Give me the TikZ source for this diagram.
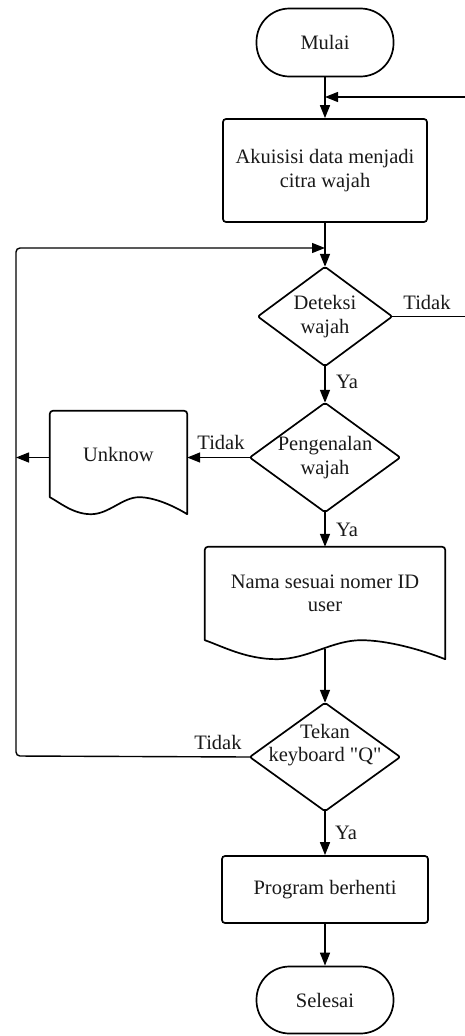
\documentclass[tikz,border=0pt]{standalone}
\usepackage{fontspec}
\setmainfont{Liberation Serif}
\usetikzlibrary{arrows.meta,calc}
\newcommand\docpath[2]{%
 \draw[shapeline] (#1.south west) [rounded corners=3pt]-- (#1.north west) -- (#1.north east) [sharp corners]-- ($(#1.south east)+(0,#2)$)
 .. controls ($(#1.south west)!0.9!(#1.south east)+(0,0.5*#2)$) and ($(#1.south west)!0.76!(#1.south east)$) .. ($(#1.south west)!0.65!(#1.south east)$)
 .. controls ($(#1.south west)!0.53!(#1.south east)$) and ($(#1.south west)!0.43!(#1.south east)+(0,#2)$) .. ($(#1.south west)!0.3!(#1.south east)+(0,#2)$)
 .. controls ($(#1.south west)!0.17!(#1.south east)+(0,#2)$) and ($(#1.south west)!0.07!(#1.south east)+(0,0.3*#2)$) .. cycle;}
\begin{document}
\begin{tikzpicture}[x=1pt,y=-1pt,
  every node/.style={font=\fontsize{20.5}{23.5}\selectfont, align=center, text=black!90},
  line/.style={line width=1.4pt},
  shapeline/.style={line width=1.7pt, line join=round},
  arr/.style={line width=1.4pt,-{Triangle[length=13pt,width=10pt]}},
  term/.style={draw,line width=1.7pt,rounded corners=33pt,minimum width=137pt,minimum height=68pt,inner sep=0pt},
  proc/.style={draw,line width=1.7pt,rounded corners=3pt,inner sep=0pt},
  shp/.style={inner sep=0pt},
  lbl/.style={inner sep=0pt}]
\useasboundingbox (0,0) rectangle (465,1036);
% nodes
\node[term] (mulai) at (325,42.5) {Mulai};
\node[proc, minimum width=204pt, minimum height=103pt] (akui) at (325,170.5) {Akuisisi data menjadi\\citra wajah};
\node[shp, minimum width=134pt, minimum height=99pt] (det) at (325,316.5) {Deteksi\\wajah};
\draw[shapeline, rounded corners=2pt] (det.north) -- (det.east) -- (det.south) -- (det.west) -- cycle;
\node[shp, minimum width=150pt, minimum height=109pt] (pen) at (325,457.5) {Pengenalan\\wajah};
\draw[shapeline, rounded corners=2pt] (pen.north) -- (pen.east) -- (pen.south) -- (pen.west) -- cycle;
\node[shp, minimum width=137pt, minimum height=86pt] (unk) at (118.5,454) {Unknow};
\docpath{unk}{17}
\node[shp, minimum width=240pt, minimum height=93pt] (nama) at (325,593.5) {Nama sesuai nomer ID\\user};
\docpath{nama}{19}
\node[shp, minimum width=150pt, minimum height=108pt] (tek) at (325,757) {};
\draw[shapeline, rounded corners=2pt] (tek.north) -- (tek.east) -- (tek.south) -- (tek.west) -- cycle;
\node[shp] (tekt) at (325,745) {Tekan\\keyboard \textquotedbl Q\textquotedbl};
\node[proc, minimum width=206pt, minimum height=67pt] (prog) at (325,889.5) {Program berhenti};
\node[term, minimum height=67pt] (sel) at (325,1000) {Selesai};
% coordinates
\coordinate (j0) at (325,97);
\coordinate (inR) at (465,97);
\coordinate (outR) at (465,316.5);
\coordinate (j1) at (325,248);
\coordinate (lft) at (16,756);
% connectors
\draw[arr] (mulai) -- (akui);
\draw[arr] (inR) -- (j0);
\draw[arr] (akui) -- (det.north);
\draw[line] (det.east) -- (outR);
\draw[arr] (det.south) -- (pen.north);
\draw[arr] (pen.west) -- (pen.west -| unk.east);
\draw[arr] (pen.west -| unk.west) -- (pen.west -| lft);
\draw[arr] (pen.south) -- (nama.north);
\draw[arr] ($(nama.south)+(0,9)$) -- (tek.north);
\draw[arr, rounded corners=4pt] (tek.west) -- (lft) -- (lft |- j1) -- (j1);
\draw[arr] (tek.south) -- (prog.north);
\draw[arr] (prog) -- (sel);
% labels
\node[lbl] (t1) at (427,302) {Tidak};
\node[lbl] (y1) at (347,382) {Ya};
\node[lbl] (t2) at (221,442) {Tidak};
\node[lbl] (y2) at (347,530) {Ya};
\node[lbl] (t3) at (218,742) {Tidak};
\node[lbl] (y3) at (346,833) {Ya};
\end{tikzpicture}
\end{document}
